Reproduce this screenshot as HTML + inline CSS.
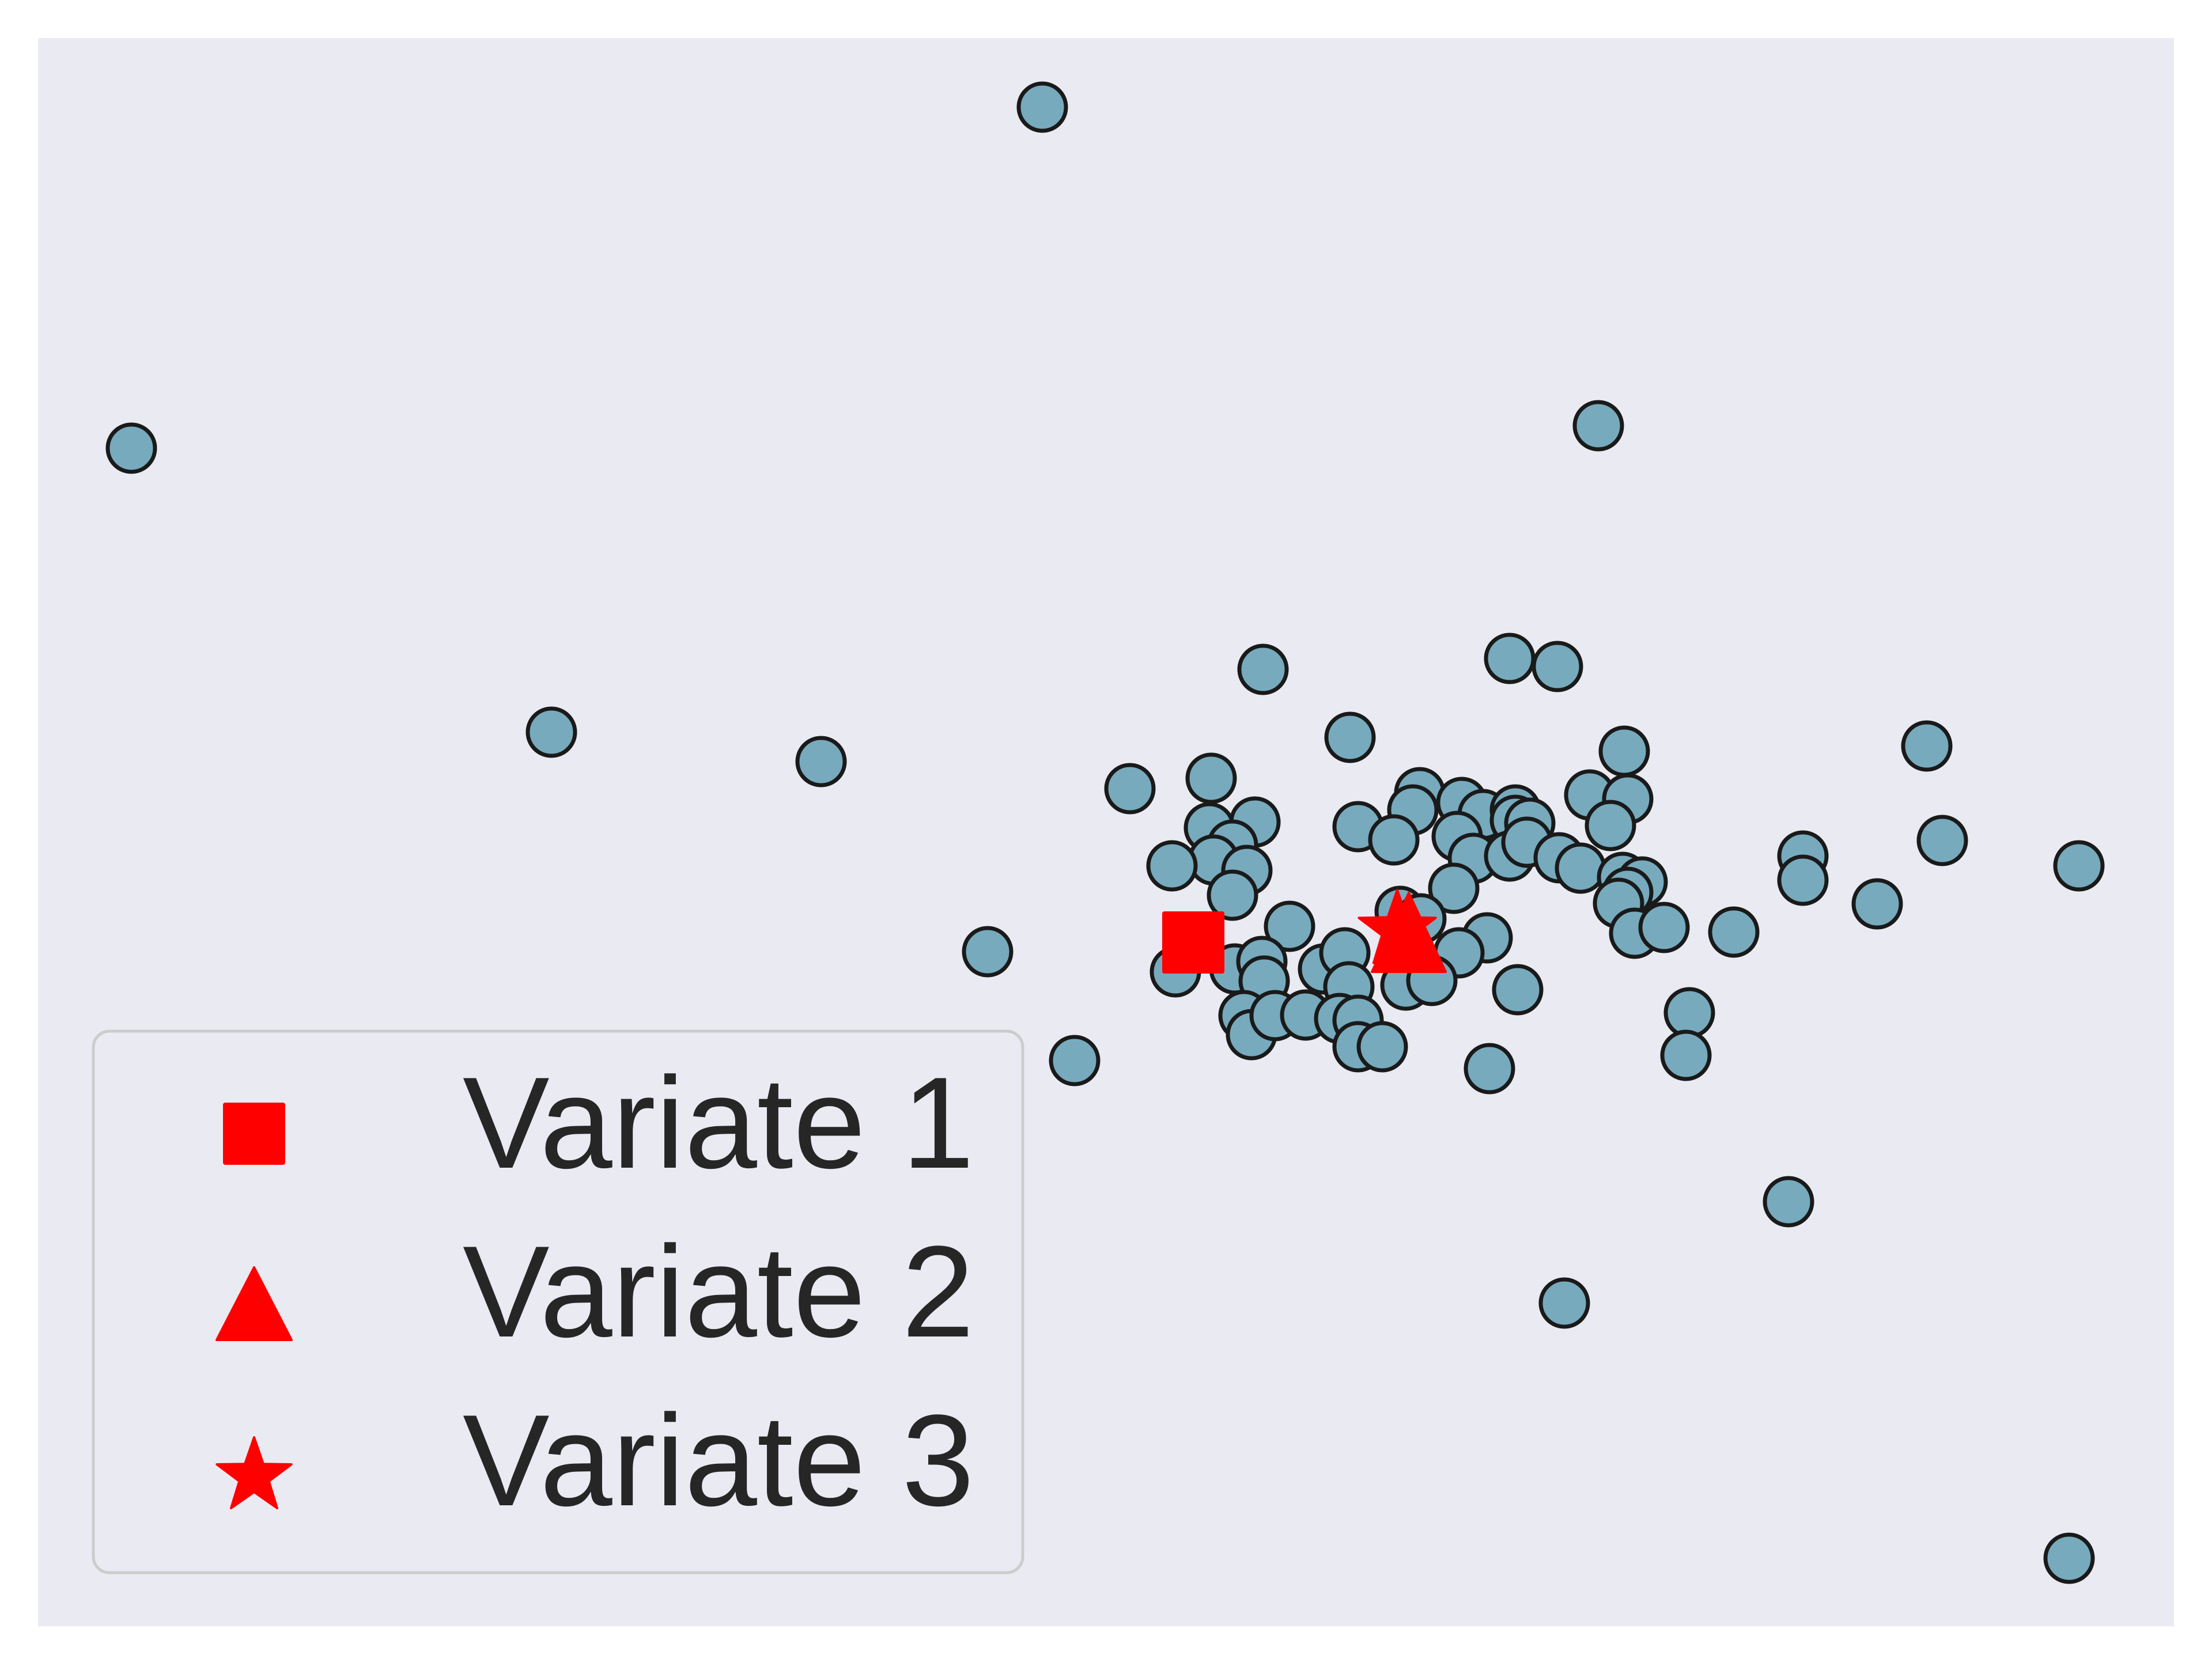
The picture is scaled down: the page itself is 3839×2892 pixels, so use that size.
<!DOCTYPE html>
<html><head><meta charset="utf-8"><style>
html,body{margin:0;padding:0;background:#fff;}
svg{display:block;}
</style></head><body>
<svg id="chart" width="3839" height="2892" viewBox="0 0 3839 2892" xmlns="http://www.w3.org/2000/svg">
<rect x="0" y="0" width="3839" height="2892" fill="#ffffff"/>
<rect x="66" y="66" width="3707" height="2757" fill="#eaeaf2"/>
<g id="points"></g>
<g id="centers"></g>
<g>
<rect x="162" y="1790" width="1613" height="940" rx="28" ry="28" fill="#eaeaf2" fill-opacity="0.8" stroke="#cccccc" stroke-width="5"/>
<rect x="387" y="1914" width="108" height="108" rx="4" fill="#ff0000"/>
<polygon points="441,2200 506,2326 376,2326" fill="#ff0000" stroke="#ff0000" stroke-width="4" stroke-linejoin="round"/>
<polygon id="legstar" fill="#ff0000" stroke="#ff0000" stroke-width="4" stroke-linejoin="round"/>
<text x="803" y="2027" font-family="Liberation Sans, DejaVu Sans, sans-serif" font-size="226" fill="#262626">Variate 1</text>
<text x="803" y="2320" font-family="Liberation Sans, DejaVu Sans, sans-serif" font-size="226" fill="#262626">Variate 2</text>
<text x="803" y="2613" font-family="Liberation Sans, DejaVu Sans, sans-serif" font-size="226" fill="#262626">Variate 3</text>
</g>
</svg>
<script>
const xs = [2126,2554,2637,2277,2753,1895,2036,2398,2386,2471,2508,2564,2564,2589,2693,2759,2729,2291,2353,2033,2112,2073,2040,2098,1968,2073,2463,2491,2554,2584,2640,2677,2457,2750,2784,2759,2743,2771,2822,2943,2364,2400,2172,2515,2466,2568,1974,2077,2124,2128,2231,2268,2275,2374,2419,2093,2106,2147,2200,2259,2291,2291,2333,2866,2860,2519,1743,162,2708,891,1359,3278,3305,3542,3063,3063,3192,1648,1799,3038,2649,3525];
const ys = [1661,1680,1666,1543,1519,1454,1472,1447,1417,1430,1409,1417,1399,1394,1443,1436,1390,1388,1365,1386,1396,1356,1330,1312,1320,1269,1371,1333,1337,1361,1334,1316,1281,1300,1292,1274,1255,1203,1213,1205,1241,1228,1215,1195,1169,1105,1136,1141,1154,1120,1141,1169,1110,1113,1121,1060,1027,1060,1061,1055,1052,1006,1006,1065,991,968,2637,2045,2084,1552,1501,1528,1364,1320,1337,1295,1254,1171,982,737,561,118];
const variateNames = ["Variate 1","Variate 2","Variate 3"];
const variateX = [2005,2379,2359];
const variateY = [1187,1203,1208];

const NS = "http://www.w3.org/2000/svg";
function sx(v){ return 66 + v; }
function sy(v){ return 2823 - v; }

const pg = document.getElementById('points');
for (let i = 0; i < xs.length; i++) {
  const c = document.createElementNS(NS, 'circle');
  c.setAttribute('cx', sx(xs[i]));
  c.setAttribute('cy', sy(ys[i]));
  c.setAttribute('r', 41);
  c.setAttribute('fill', '#77aabd');
  c.setAttribute('stroke', '#1a1a1a');
  c.setAttribute('stroke-width', 7);
  
  
  pg.appendChild(c);
}

function starPts(cx, cy, R, r) {
  const p = [];
  for (let k = 0; k < 10; k++) {
    const a = -Math.PI / 2 + k * Math.PI / 5;
    const rad = k % 2 === 0 ? R : r;
    p.push((cx + rad * Math.cos(a)).toFixed(1) + ',' + (cy + rad * Math.sin(a)).toFixed(1));
  }
  return p.join(' ');
}

const cg = document.getElementById('centers');
{
  const x = sx(variateX[0]), y = sy(variateY[0]);
  const s = document.createElementNS(NS, 'rect');
  s.setAttribute('x', x - 54); s.setAttribute('y', y - 54);
  s.setAttribute('width', 108); s.setAttribute('height', 108);
  s.setAttribute('rx', 4);
  s.setAttribute('fill', '#ff0000');
  
  
  cg.appendChild(s);
}
{
  const x = sx(variateX[1]), y = sy(variateY[1]);
  const t = document.createElementNS(NS, 'polygon');
  t.setAttribute('points', `${x},${y-70} ${x+64},${y+67} ${x-64},${y+67}`);
  t.setAttribute('fill', '#ff0000');
  t.setAttribute('stroke', '#ff0000');
  t.setAttribute('stroke-width', 4);
  t.setAttribute('stroke-linejoin', 'round');
  
  
  cg.appendChild(t);
}
{
  const x = sx(variateX[2]), y = sy(variateY[2]);
  const st = document.createElementNS(NS, 'polygon');
  st.setAttribute('points', starPts(x, y, 70, 28));
  st.setAttribute('fill', '#ff0000');
  st.setAttribute('stroke', '#ff0000');
  st.setAttribute('stroke-width', 4);
  st.setAttribute('stroke-linejoin', 'round');
  
  
  cg.appendChild(st);
}
document.getElementById('legstar').setAttribute('points', starPts(441, 2563, 68, 27));
</script>
</body></html>
